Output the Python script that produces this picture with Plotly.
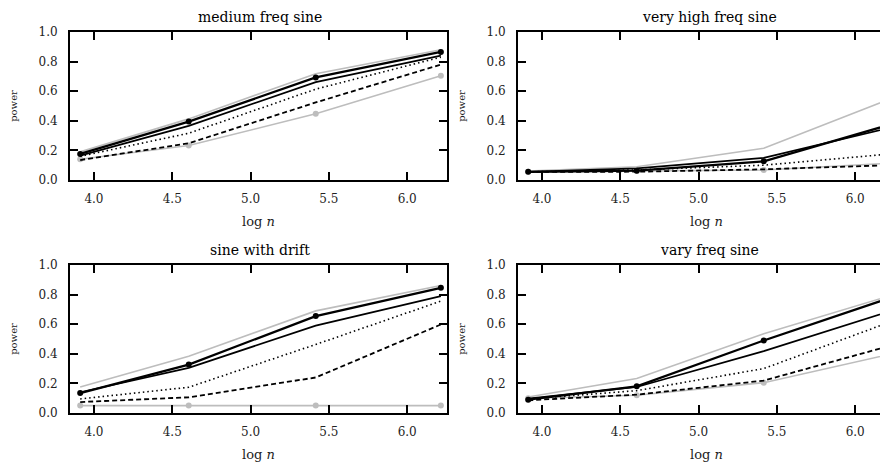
import plotly.graph_objects as go

log_n = [3.912, 4.605, 5.416, 6.215]

titles = ["medium freq sine", "very high freq sine", "sine with drift", "vary freq sine"]

# series per panel: gray_top, black_dots, black_solid, black_dotted, black_dashed, gray_dots
gray_top = [
    [0.19, 0.413, 0.718, 0.88],
    [0.06, 0.09, 0.215, 0.545],
    [0.176, 0.384, 0.69, 0.862],
    [0.108, 0.233, 0.535, 0.79],
]
black_dots = [
    [0.176, 0.395, 0.693, 0.865],
    [0.055, 0.063, 0.126, 0.372],
    [0.135, 0.327, 0.655, 0.846],
    [0.09, 0.18, 0.49, 0.775],
]
black_solid = [
    [0.165, 0.366, 0.661, 0.84],
    [0.055, 0.079, 0.149, 0.352],
    [0.14, 0.305, 0.59, 0.79],
    [0.097, 0.176, 0.418, 0.685],
]
black_dotted = [
    [0.16, 0.316, 0.614, 0.83],
    [0.055, 0.068, 0.1, 0.175],
    [0.095, 0.174, 0.463, 0.756],
    [0.095, 0.151, 0.3, 0.612],
]
black_dashed = [
    [0.135, 0.248, 0.524, 0.78],
    [0.055, 0.056, 0.072, 0.1],
    [0.074, 0.106, 0.24, 0.598],
    [0.086, 0.124, 0.219, 0.452],
]
gray_dots = [
    [0.14, 0.233, 0.447, 0.704],
    [0.055, 0.06, 0.068, 0.113],
    [0.05, 0.05, 0.05, 0.05],
    [0.1, 0.12, 0.205, 0.395],
]

x_ticks = [4.0, 4.5, 5.0, 5.5, 6.0]
y_ticks = [0.0, 0.2, 0.4, 0.6, 0.8, 1.0]

W, H = 888, 466
OFF = 8  # page body margin
FONT = "DejaVu Serif"
GRAY = "#bdbdbd"

# panel frames in screen pixels: (left, right, top, bottom)
frames = [(70, 447, 32, 180), (518, 895, 32, 180), (70, 447, 265, 413), (518, 895, 265, 413)]
xrange_ = [3.847, 6.254]
title_x = [260, 709, 260, 709]

fig = go.Figure()

for i in range(4):
    xa = "x" if i == 0 else f"x{i+1}"
    ya = "y" if i == 0 else f"y{i+1}"
    specs = [
        (gray_top[i], dict(color=GRAY, width=1.6), None),
        (gray_dots[i], dict(color=GRAY, width=1.6), dict(color=GRAY, size=6)),
        (black_dashed[i], dict(color="black", width=1.8, dash="5px,3px"), None),
        (black_dotted[i], dict(color="black", width=1.6, dash="1.5px,3px"), None),
        (black_solid[i], dict(color="black", width=1.7), None),
        (black_dots[i], dict(color="black", width=2.3), dict(color="black", size=6)),
    ]
    for ys, line, marker in specs:
        fig.add_trace(go.Scatter(
            x=log_n, y=ys, xaxis=xa, yaxis=ya,
            mode="lines+markers" if marker else "lines",
            line=line, marker=marker, showlegend=False, hoverinfo="skip",
            cliponaxis=True,
        ))

    l, r, t, b = [v - OFF for v in frames[i]]
    ax_common = dict(
        showgrid=False, zeroline=False, showline=True, linecolor="black", linewidth=2,
        ticks="inside", ticklen=8, tickwidth=1.5, tickcolor="black", automargin=False,
        tickfont=dict(family=FONT, size=12, color="#222"),
    )
    fig.layout[f"xaxis{'' if i == 0 else i+1}"] = dict(
        ax_common, domain=[l / W, r / W], range=xrange_, anchor=ya,
        tickvals=x_ticks, ticktext=[f"{v:.1f}" for v in x_ticks],
        mirror="allticks", ticklabelstandoff=7,
        title=dict(text="log <i>n</i>", font=dict(family=FONT, size=13, color="#222"), standoff=11),
    )
    fig.layout[f"yaxis{'' if i == 0 else i+1}"] = dict(
        ax_common, domain=[(H - b) / H, (H - t) / H], range=[0, 1], anchor=xa,
        tickvals=y_ticks, ticktext=[f"{v:.1f}" for v in y_ticks],
        mirror="allticks", ticklabelstandoff=8,
        title=dict(text="power", font=dict(family=FONT, size=10, color="#222"), standoff=19),
    )
    fig.add_annotation(
        text=titles[i], xref="paper", yref="paper",
        x=(title_x[i] - OFF) / W, y=(H - (t - 15)) / H, xanchor="center", yanchor="middle",
        showarrow=False, borderpad=0, font=dict(family=FONT, size=14, color="black"),
    )

fig.update_layout(
    width=W, height=H, margin=dict(l=0, r=0, t=0, b=0, autoexpand=False),
    paper_bgcolor="white", plot_bgcolor="white",
)

fig.write_html("out.html")
